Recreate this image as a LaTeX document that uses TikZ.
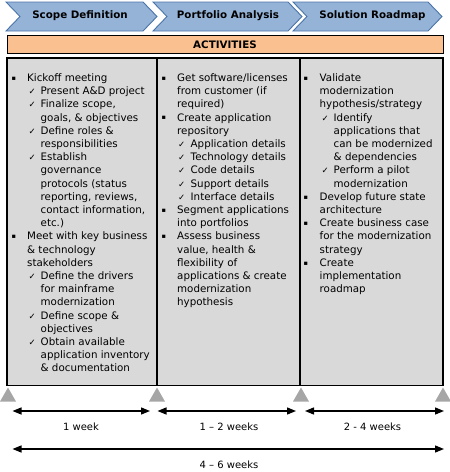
\documentclass[tikz,border=0pt]{standalone}
\usepackage{fontspec}
\setmainfont{DejaVu Sans}
\usetikzlibrary{arrows.meta}
\definecolor{chevfill}{HTML}{95B3D7}
\definecolor{chevline}{HTML}{4A74A8}
\definecolor{actfill}{HTML}{FAC090}
\definecolor{boxfill}{HTML}{D9D9D9}
\definecolor{trifill}{HTML}{A6A6A6}
\newlength\bw \newlength\cw \newlength\sw
\newcommand{\Bu}[1]{\makebox[\bw][l]{\hspace*{1pt}\raisebox{1.2pt}{\fontsize{6.5}{6.5}\selectfont ▪}}#1}
\newcommand{\Bc}[1]{\hspace*{\bw}#1}
\newcommand{\Ck}[1]{\hspace*{\bw}\hspace*{\cw}\makebox[\sw][l]{{\fontsize{8.5}{8.5}\selectfont ✓}}#1}
\newcommand{\Cc}[1]{\hspace*{\bw}\hspace*{\cw}\hspace*{\sw}#1}
\tikzset{
  chev/.style={fill=chevfill, draw=chevline, line width=0.9pt, line join=miter},
  chevtext/.style={font=\fontsize{10.3}{12}\selectfont\bfseries, inner sep=0},
  coltext/.style={anchor=north west, inner sep=0, align=left},
  dur/.style={line width=1.3pt, {Triangle[length=9pt,width=7pt]}-{Triangle[length=9pt,width=7pt]}},
  durlabel/.style={font=\fontsize{10}{12}\selectfont, inner sep=0},
  tri/.style={fill=trifill},
}
\begin{document}
\begin{tikzpicture}[x=1pt,y=-1pt]
\useasboundingbox (0,0) rectangle (450,472);
% chevrons
\draw[chev] (6,2) -- (143,2) -- (157,16.5) -- (143,31) -- (6,31) -- (20,16.5) -- cycle;
\draw[chev] (153,2) -- (288,2) -- (302,16.5) -- (288,31) -- (153,31) -- (167,16.5) -- cycle;
\draw[chev] (293,2) -- (428,2) -- (442,16.5) -- (428,31) -- (293,31) -- (307,16.5) -- cycle;
\node[chevtext] (h1) at (80,16) {Scope Definition};
\node[chevtext] (h2) at (228,16) {Portfolio Analysis};
\node[chevtext] (h3) at (372.5,16) {Solution Roadmap};
% activities bar
\draw[fill=actfill, draw=black, line width=1pt] (7,35.5) rectangle (443,53);
\node[chevtext] (act) at (225,44.5) {ACTIVITIES};
% grey box
\draw[fill=boxfill, draw=black, line width=1.2pt] (7,58) rectangle (443,385.5);
\draw[line width=1.2pt] (157,58) -- (157,385.5);
\draw[line width=1.2pt] (300,58) -- (300,385.5);
% column 1
\node[coltext, font={\fontsize{10.3}{13.2}\selectfont\setlength\bw{16.5pt}\setlength\cw{1.5pt}\setlength\sw{12pt}}] (c1) at (10.5,73.5) {%
\Bu{Kickoff meeting}\\
\Ck{Present A\&D project}\\
\Ck{Finalize scope,}\\
\Cc{goals, \& objectives}\\
\Ck{Define roles \&}\\
\Cc{responsibilities}\\
\Ck{Establish}\\
\Cc{governance}\\
\Cc{protocols (status}\\
\Cc{reporting, reviews,}\\
\Cc{contact information,}\\
\Cc{etc.)}\\
\Bu{Meet with key business}\\
\Bc{\& technology}\\
\Bc{stakeholders}\\
\Ck{Define the drivers}\\
\Cc{for mainframe}\\
\Cc{modernization}\\
\Ck{Define scope \&}\\
\Cc{objectives}\\
\Ck{Obtain available}\\
\Cc{application inventory}\\
\Cc{\& documentation}};
% column 2
\node[coltext, font={\fontsize{10.3}{13.2}\selectfont\setlength\bw{16.5pt}\setlength\cw{1pt}\setlength\sw{12.5pt}}] (c2) at (160.5,73.5) {%
\Bu{Get software/licenses}\\
\Bc{from customer (if}\\
\Bc{required)}\\
\Bu{Create application}\\
\Bc{repository}\\
\Ck{Application details}\\
\Ck{Technology details}\\
\Ck{Code details}\\
\Ck{Support details}\\
\Ck{Interface details}\\
\Bu{Segment applications}\\
\Bc{into portfolios}\\
\Bu{Assess business}\\
\Bc{value, health \&}\\
\Bc{flexibility of}\\
\Bc{applications \& create}\\
\Bc{modernization}\\
\Bc{hypothesis}};
% column 3
\node[coltext, font={\fontsize{10.3}{13.2}\selectfont\setlength\bw{17pt}\setlength\cw{2pt}\setlength\sw{12pt}}] (c3) at (302.5,73.5) {%
\Bu{Validate}\\
\Bc{modernization}\\
\Bc{hypothesis/strategy}\\
\Ck{Identify}\\
\Cc{applications that}\\
\Cc{can be modernized}\\
\Cc{\& dependencies}\\
\Ck{Perform a pilot}\\
\Cc{modernization}\\
\Bu{Develop future state}\\
\Bc{architecture}\\
\Bu{Create business case}\\
\Bc{for the modernization}\\
\Bc{strategy}\\
\Bu{Create}\\
\Bc{implementation}\\
\Bc{roadmap}};
% milestone triangles
\fill[tri] (8,387.5) -- (16,401.5) -- (0,401.5) -- cycle;
\fill[tri] (157,387.5) -- (165,401.5) -- (149,401.5) -- cycle;
\fill[tri] (301,387.5) -- (309,401.5) -- (293,401.5) -- cycle;
\fill[tri] (443,387.5) -- (451,401.5) -- (435,401.5) -- cycle;
% durations
\coordinate (a1s) at (12.5,411); \coordinate (a1e) at (150,411);
\coordinate (a2s) at (157.5,411); \coordinate (a2e) at (296,411);
\coordinate (a3s) at (305,411); \coordinate (a3e) at (444,411);
\coordinate (a4s) at (12.5,449); \coordinate (a4e) at (444,449);
\draw[dur] (a1s) -- (a1e);
\draw[dur] (a2s) -- (a2e);
\draw[dur] (a3s) -- (a3e);
\draw[dur] (a4s) -- (a4e);
\node[durlabel] (l1) at (81,427) {1 week};
\node[durlabel] (l2) at (229,427) {1 – 2 weeks};
\node[durlabel] (l3) at (372.5,427) {2 - 4 weeks};
\node[durlabel] (l4) at (229,465) {4 – 6 weeks};
\end{tikzpicture}
\end{document}
